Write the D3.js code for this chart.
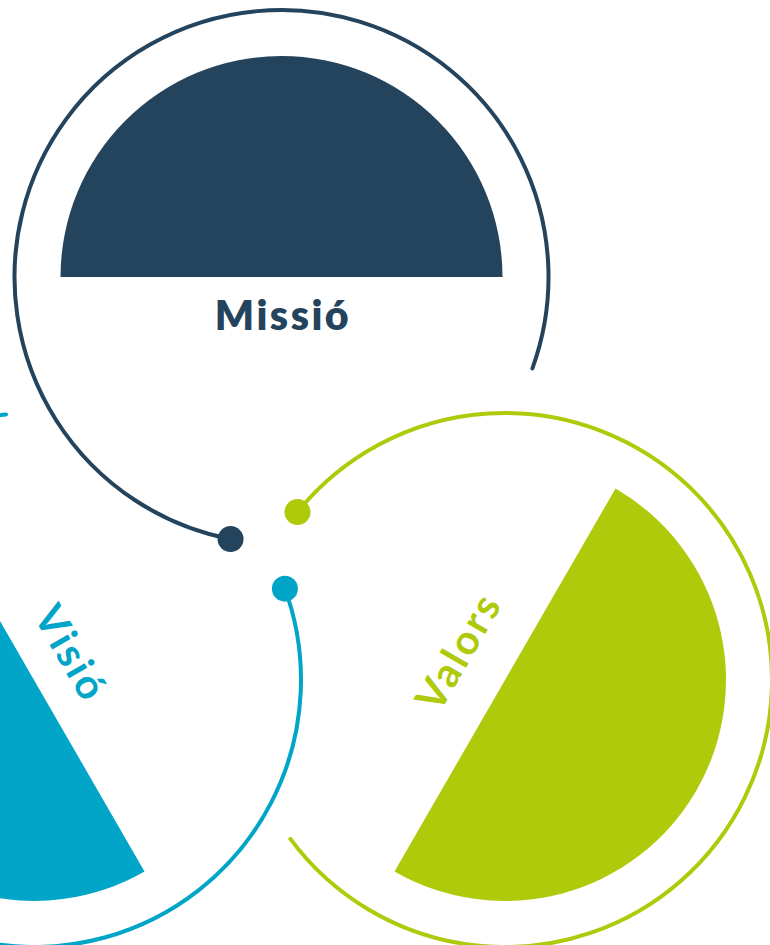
<!DOCTYPE html>
<html>
<head>
<meta charset="utf-8">
<script src="https://cdn.jsdelivr.net/npm/d3@7"></script>
<style>
  html, body { margin: 0; padding: 0; background: #fff; }
  svg { display: block; }
</style>
</head>
<body>
<svg id="chart"></svg>
<script>
// Dades: tres blocs (missió, visió, valors)
const labels = ["Missió", "Visió", "Valors"];
const colors = ["#24435c", "#00a5c7", "#afca0b"];
// angle d'inici del semicercle ple (graus, 0 = dalt, sentit horari)
const halfStart = [-90, 150, 30];
// arc de l'anella: inici (on hi ha el punt) i final
const ringStart = [191, 70, -51];
const ringEnd = [470, 354, 233.5];
// gir del text
const labelRotate = [0, 60, -60];

const width = 770, height = 945;
const svg = d3.select("#chart").attr("width", width).attr("height", height);

// posicions dels centres en unitats del diagrama
const cx = d3.scaleLinear().domain([0, 1]).range([34, 505]);
const cy = d3.scaleLinear().domain([0, 1]).range([277, 680]);
const centers = [[0.5255, 0], [0, 1], [1, 1]];

const rad = d => d * Math.PI / 180;
const ringR = 267, discR = 221;

const half = d3.arc().innerRadius(0).outerRadius(discR);

labels.forEach((label, i) => {
    const x = cx(centers[i][0]), y = cy(centers[i][1]);
    const g = svg.append("g").attr("transform", `translate(${x},${y})`);

    // semicercle ple
    g.append("path")
        .attr("d", half({ startAngle: rad(halfStart[i]), endAngle: rad(halfStart[i] + 180) }))
        .attr("fill", colors[i]);

    // anella oberta
    const p = d3.path();
    const a0 = rad(ringStart[i] - 90), a1 = rad(ringEnd[i] - 90);
    p.moveTo(ringR * Math.cos(a0), ringR * Math.sin(a0));
    p.arc(0, 0, ringR, a0, a1);
    g.append("path")
        .attr("d", p.toString())
        .attr("fill", "none")
        .attr("stroke", colors[i])
        .attr("stroke-width", 4)
        .attr("stroke-linecap", "round");

    // punt a l'inici de l'anella
    g.append("circle")
        .attr("cx", ringR * Math.cos(a0))
        .attr("cy", ringR * Math.sin(a0))
        .attr("r", 13)
        .attr("fill", colors[i]);

    // etiqueta
    const t = g.append("g").attr("transform", `rotate(${labelRotate[i]})`);
    t.append("text")
        .attr("x", (i === 1 ? -6 : 0) + 1.5)
        .attr("y", i === 0 ? 53 : (i === 1 ? -31 : -40))
        .attr("text-anchor", "middle")
        .attr("fill", colors[i])
        .style("font-family", "Lato, 'Open Sans', sans-serif")
        .style("font-weight", i === 0 ? 800 : 700)
        .style("font-size", "41px")
        .style("letter-spacing", "2.5px")
        .text(label);
});
</script>
</body>
</html>
